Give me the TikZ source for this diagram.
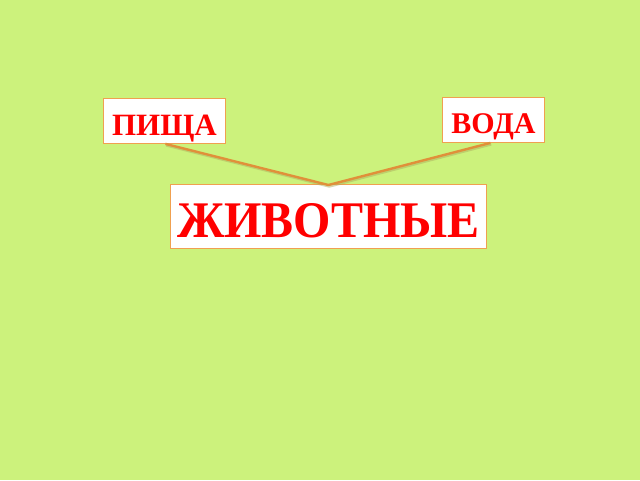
\documentclass[tikz,border=0pt]{standalone}
\usepackage{fontspec}
\setmainfont{Liberation Serif}
\definecolor{bg}{HTML}{CCF27C}
\definecolor{edge}{HTML}{F0A050}
\definecolor{conn}{HTML}{E0903A}
\definecolor{shad}{HTML}{B0B060}
\begin{document}
\begin{tikzpicture}[x=1pt,y=-1pt,
  wordbox/.style={draw=edge,line width=0.9pt,fill=white,inner sep=0pt,
    font=\bfseries,text=red,anchor=north west},
  conline/.style={draw=conn,line width=2.4pt},
  shadline/.style={draw=shad,line width=2.4pt,opacity=0.5}]
\fill[bg] (0,0) rectangle (640,480);
\useasboundingbox (0,0) rectangle (640,480);
\node[wordbox,minimum width=122pt,minimum height=45pt,text height=37pt,text depth=8pt,
  font=\fontsize{31}{31}\selectfont\bfseries] (pisha) at (103,98) {ПИЩА};
\node[wordbox,minimum width=102pt,minimum height=45pt,text height=36pt,text depth=9pt,
  font=\fontsize{30}{30}\selectfont\bfseries] (voda) at (442,97) {ВОДА};
\node[wordbox,minimum width=316pt,minimum height=64pt,text height=53pt,text depth=11pt,
  font=\fontsize{48}{48}\selectfont\bfseries] (zhiv) at (170,184) {\scalebox{1}[1.07]{ЖИВОТНЫЕ}};
\coordinate (pa) at ([xshift=1pt]pisha.south);
\coordinate (va) at ([xshift=-3pt]voda.south);
\coordinate (za) at ([yshift=-1pt]zhiv.north);
\draw[shadline,transform canvas={xshift=0.8pt,yshift=-1.5pt}] (pa) -- (za) -- (va);
\draw[conline,line join=miter] (pa) -- (za) -- (va);
\end{tikzpicture}
\end{document}
